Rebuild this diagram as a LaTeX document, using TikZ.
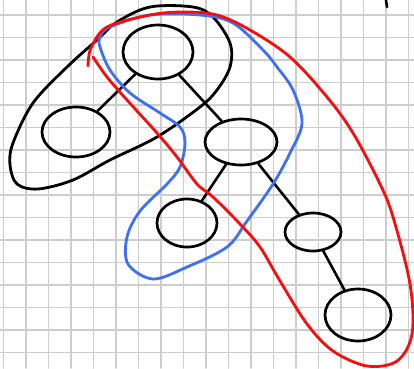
\documentclass[tikz,border=0pt]{standalone}
\usepackage{tikz}
\usetikzlibrary{shapes.geometric}
\usepackage{xcolor}
\definecolor{gridgray}{RGB}{205,205,205}
\definecolor{redhull}{RGB}{250,12,12}
\definecolor{bluehull}{RGB}{62,112,245}
\newcommand{\treenode}[5]{\node[tnode,minimum width=#4pt,minimum height=#5pt] (#1) at (#2,#3) {};}

\begin{document}
\begin{tikzpicture}[x=1pt,y=-1pt,line cap=round,line join=round,
  tnode/.style={draw,ellipse,line width=2.7pt,inner sep=0pt},
  edge/.style={line width=2.6pt},
  hull/.style={line width=2.8pt,tension=0.55}]
  \useasboundingbox (0,0) rectangle (414,368);
  % grid paper
  \foreach \gx in {0,...,18}
    \draw[gridgray,line width=1.8pt] (3.5+22.5*\gx,0) -- (3.5+22.5*\gx,368);
  \foreach \gy in {0,...,15}
    \draw[gridgray,line width=1.8pt] (0,15+22.5*\gy) -- (414,15+22.5*\gy);
  % tree
  \treenode{root}{158}{52}{70}{54}
  \treenode{lft}{76}{132}{68}{50}
  \treenode{rgt}{241}{142}{72}{46}
  \treenode{rl}{187}{223}{60}{48}
  \treenode{rr}{313}{232}{56}{38}
  \treenode{rrr}{358}{315}{66}{52}
  \draw[edge] (root) -- (lft);
  \draw[edge] (root) -- (rgt);
  \draw[edge] (rgt) -- (rl);
  \draw[edge] (rgt) -- (rr);
  \draw[edge] (rr) -- (rrr);
  % hulls
  \draw[hull] plot[smooth cycle] coordinates {(117,22) (150,7) (193,7) (213,17) (230,43) (230,67)
    (217,90) (200,107) (157,137) (110,160) (73,180) (38,189) (17,184) (10,165) (13,143)
    (33,103) (67,67) (97,40)};
  \draw[hull,bluehull] plot[smooth cycle] coordinates {(100,47) (110,70) (130,93) (160,113)
    (180,127) (185,143) (180,167) (167,184) (140,211) (127,237) (128,264) (153,279) (187,267)
    (227,247) (247,221) (273,184) (290,153) (302,123) (293,90) (277,67) (263,50) (233,23)
    (200,15) (150,15) (110,27) (100,37)};
  \draw[hull,redhull] plot[smooth] coordinates {(88,66) (91,48) (107,27) (150,15) (183,12)
    (217,15) (250,30) (290,57) (327,97) (353,133) (380,184) (393,217) (410,284) (412,334)
    (397,361) (367,366) (333,351) (307,324) (280,281) (260,247) (240,224) (213,197) (197,184)
    (177,157) (157,133) (127,100) (107,77) (93,57)};
  \draw[edge] (386,0) -- (387,7);
\end{tikzpicture}
\end{document}
